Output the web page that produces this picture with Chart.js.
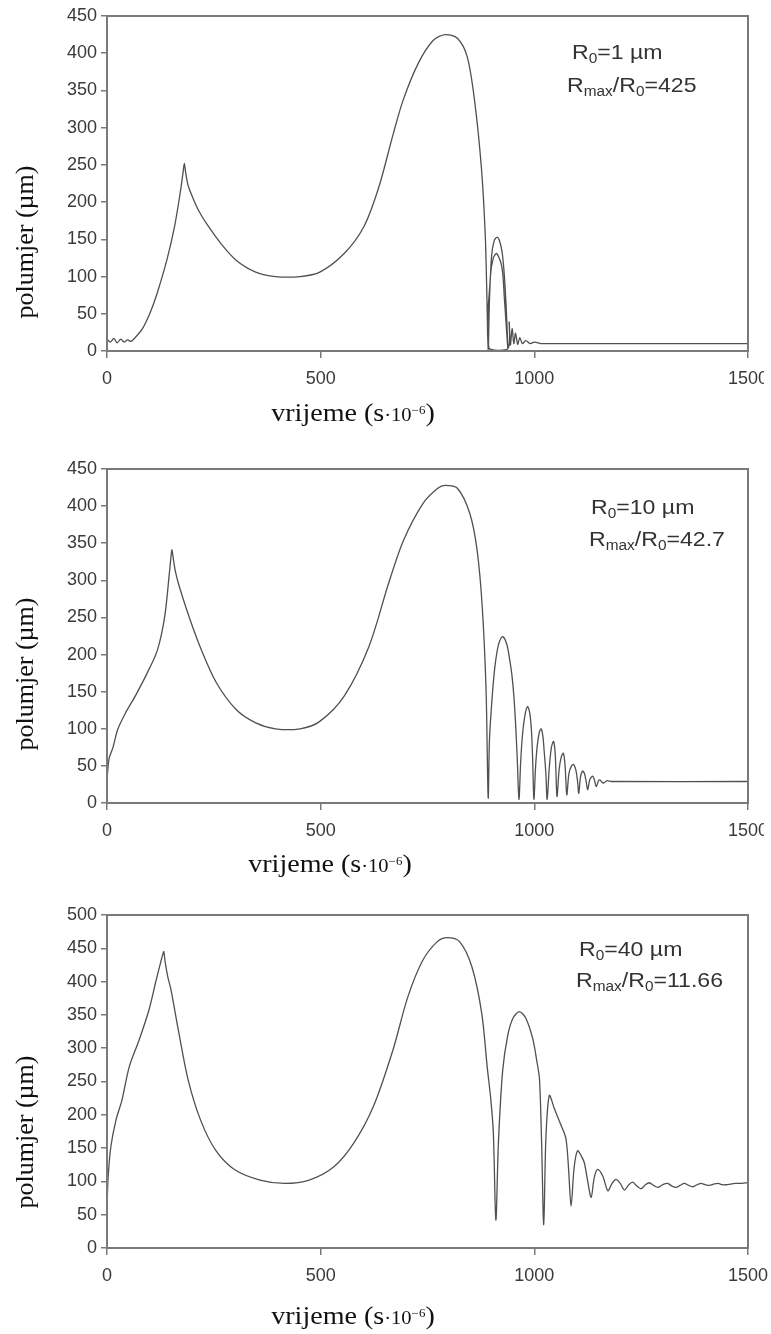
<!DOCTYPE html>
<html>
<head>
<meta charset="utf-8">
<script src="https://cdn.jsdelivr.net/npm/chart.js@4/dist/chart.umd.min.js"></script>
<style>
  body { margin: 0; background: #fff; width: 771px; height: 1334px; position: relative; overflow: hidden; }
  canvas { position: absolute; left: 0; }
  .ytitle, .xtitle { position: absolute; white-space: nowrap; color: #111;
    font-family: "Liberation Serif", "Times New Roman", serif; font-size: 26px; }
  .ytitle { transform: translate(-50%, -50%) rotate(-90deg); }
  .xtitle { transform: translate(-50%, -50%) scaleX(1.08); }
  .xtitle .small { font-size: 19px; }
  .xtitle sup { font-size: 12px; }
  .note { position: absolute; white-space: nowrap; color: #333; transform-origin: left center;
    transform: translateY(-50%) scaleX(1.1);
    font-family: "Liberation Sans", Arial, sans-serif; font-size: 21px; }
  .note sub { font-size: 14px; vertical-align: -4px; }
  .mask { position: absolute; left: 764px; width: 7px; height: 24px; background: #fff; }
</style>
</head>
<body>
<canvas id="c1" width="771" height="440" style="top:0px"></canvas>
<canvas id="c2" width="771" height="440" style="top:440px"></canvas>
<canvas id="c3" width="771" height="454" style="top:880px"></canvas>

<!-- the scan cuts the last x label of the two upper panels -->
<div class="mask" style="top:368px"></div>
<div class="mask" style="top:818px"></div>

<div class="ytitle" style="left:25px;top:242px">polumjer (µm)</div>
<div class="ytitle" style="left:25px;top:674px">polumjer (µm)</div>
<div class="ytitle" style="left:25px;top:1132px">polumjer (µm)</div>

<div class="xtitle" style="left:353px;top:413px">vrijeme (s<span class="small">·10<sup>−6</sup></span>)</div>
<div class="xtitle" style="left:330px;top:864px">vrijeme (s<span class="small">·10<sup>−6</sup></span>)</div>
<div class="xtitle" style="left:353px;top:1316px">vrijeme (s<span class="small">·10<sup>−6</sup></span>)</div>

<div class="note" style="left:572px;top:53px">R<sub>0</sub>=1 µm</div>
<div class="note" style="left:567px;top:86px">R<sub>max</sub>/R<sub>0</sub>=425</div>
<div class="note" style="left:591px;top:508px">R<sub>0</sub>=10 µm</div>
<div class="note" style="left:589px;top:540px">R<sub>max</sub>/R<sub>0</sub>=42.7</div>
<div class="note" style="left:579px;top:950px">R<sub>0</sub>=40 µm</div>
<div class="note" style="left:576px;top:981px">R<sub>max</sub>/R<sub>0</sub>=11.66</div>

<script>
// ── Data (time in s·10^-6, radius in µm) ──────────────────────────────────

const xTicks = [0, 500, 1000, 1500];

// R0 = 1 µm
const t1 = [0, 8, 16, 24, 32, 40, 48, 56, 66, 83, 100, 117, 140, 158, 172, 178, 181, 184, 190, 200, 215, 233,
  267, 302, 348, 394, 452, 498, 555, 601, 636, 670, 693, 728, 763, 791, 820, 843, 860, 876, 885, 889, 892,
  895, 900, 906, 913, 919, 925, 930, 934, 938,
  930, 924, 912, 904, 897, 894,
  938, 941, 944, 948, 952, 956, 961, 966, 972, 980, 990, 1000, 1016, 1030, 1500];
const r1 = [16, 12, 17, 11, 16, 12, 15, 13, 18, 30, 50, 77, 122, 167, 215, 240, 252, 240, 222, 207, 188, 171,
  144, 122, 106, 100, 100, 106, 131, 167, 220, 292, 337, 386, 417, 425, 420, 395, 337, 247, 158, 73, 2,
  68, 128, 148, 153, 147, 131, 100, 60, 4,
  70, 113, 131, 125, 99, 4,
  3, 39, 8, 30, 10, 24, 9, 18, 10, 14, 10, 12, 10, 10, 10];

// R0 = 10 µm
const t2 = [0, 2, 5, 14, 25, 43, 66, 94, 118, 135, 146, 150, 152, 155, 160, 169, 192, 221, 256, 302, 348, 394,
  452, 498, 555, 613, 659, 694, 740, 774, 791, 820, 849, 866, 878, 887, 892,
  895, 901, 907, 913, 918, 926, 935, 941, 947, 952, 956, 960, 964,
  968, 972, 978, 984, 989, 993, 996, 999,
  1003, 1007, 1012, 1016, 1020, 1023, 1027, 1030,
  1035, 1040, 1045, 1049, 1053,
  1058, 1063, 1068, 1072, 1076,
  1081, 1087, 1092, 1097, 1101, 1104,
  1108, 1113, 1117, 1121, 1125,
  1130, 1137, 1141, 1145,
  1150, 1154, 1158, 1163, 1170, 1180, 1500];
const r2 = [30, 45, 60, 75, 99, 121, 144, 175, 206, 251, 310, 333, 341, 330, 312, 292, 251, 206, 162, 126, 108, 100,
  100, 110, 144, 211, 296, 354, 404, 424, 428, 424, 390, 341, 265, 153, 7,
  85, 140, 180, 205, 217, 224, 215, 198, 175, 145, 108, 60, 5,
  55, 90, 118, 130, 122, 100, 60, 5,
  50, 78, 96, 100, 90, 70, 40, 5,
  48, 75, 83, 65, 9,
  45, 62, 67, 50, 11,
  40, 50, 52, 45, 30, 13,
  35, 43, 40, 30, 18,
  32, 36, 30, 22,
  30, 31, 28, 27, 30, 29, 29];

// R0 = 40 µm
const t3 = [0, 1, 3, 9, 21, 35, 52, 75, 98, 115, 126, 131, 133, 136, 142, 150, 167, 190, 219, 254, 300, 358,
  415, 473, 531, 577, 623, 669, 704, 739, 773, 796, 825, 854, 877, 890, 898, 904, 910,
  916, 926, 938, 950, 965, 980, 996, 1006, 1012, 1017, 1022,
  1027, 1035, 1047, 1062, 1074, 1080, 1086,
  1093, 1101, 1110, 1117, 1125, 1133,
  1140, 1148, 1160, 1172,
  1181, 1191, 1201, 1211,
  1221, 1230, 1240, 1250, 1260, 1269, 1279, 1289, 1300, 1312, 1322, 1332, 1341, 1351, 1361, 1371,
  1381, 1390, 1400, 1410, 1420, 1430, 1440, 1449, 1459, 1469, 1485, 1500];
const r3 = [52, 80, 110, 152, 192, 222, 272, 312, 357, 402, 430, 442, 445, 430, 408, 387, 327, 252, 192, 147, 117, 102,
  97, 102, 122, 157, 212, 297, 377, 432, 460, 466, 460, 422, 352, 270, 224, 174, 42,
  159, 267, 320, 345, 355, 345, 315, 280, 254, 159, 35,
  164, 229, 209, 185, 164, 120, 63,
  120, 146, 138, 128, 100, 76,
  105, 118, 108, 86,
  96, 103, 97, 87,
  95, 99, 93, 89, 95, 98, 94, 91, 95, 97, 93, 91, 94, 97, 94, 92,
  95, 97, 95, 94, 96, 97, 95, 95, 96, 97, 97, 98];

// ── Frame round the plot area ─────────────────────────────────────────────

const framePlugin = {
  id: 'frame',
  afterDraw(chart) {
    const a = chart.chartArea, ctx = chart.ctx;
    ctx.save();
    ctx.strokeStyle = '#7a7a7a';
    ctx.lineWidth = 2;
    ctx.strokeRect(a.left, a.top, a.right - a.left, a.bottom - a.top);
    ctx.restore();
  }
};

// ── One panel ─────────────────────────────────────────────────────────────

function mkChart(id, ts, rs, yMax, plotTop, plotBottom, canvasH) {
  const ctx = document.getElementById(id).getContext('2d');
  const tickFont = { family: '"Liberation Sans", Arial, sans-serif', size: 18 };
  return new Chart(ctx, {
    type: 'line',
    data: {
      datasets: [{
        data: ts.map((t, i) => ({ x: t, y: rs[i] })),
        borderColor: '#505050',
        borderWidth: 1.3,
        pointRadius: 0,
        tension: 0.3,
        fill: false,
      }],
    },
    options: {
      responsive: false,
      animation: false,
      devicePixelRatio: 1,
      layout: { padding: { top: plotTop, right: 23, left: 0, bottom: 0 } },
      plugins: { legend: { display: false }, tooltip: { enabled: false } },
      scales: {
        x: {
          type: 'linear', min: 0, max: 1500,
          afterBuildTicks: s => { s.ticks = xTicks.map(v => ({ value: v })); },
          // fixed axis height; let the last label hang into the right margin
          afterFit: s => { s.height = canvasH - plotBottom; s.paddingRight = 0; s.paddingLeft = 0; },
          ticks: { color: '#3a3a3a', font: tickFont, padding: 10, maxRotation: 0,
                   callback: v => String(v) },
          grid: { drawOnChartArea: false, tickLength: 7, color: '#7a7a7a', lineWidth: 1.5 },
          border: { display: false },
        },
        y: {
          min: 0, max: yMax,
          ticks: { stepSize: 50, color: '#3a3a3a', font: tickFont, padding: 4,
                   callback: v => String(v) },
          afterFit: s => { s.width = 107; },
          grid: { drawOnChartArea: false, tickLength: 6, color: '#7a7a7a', lineWidth: 1.5 },
          border: { display: false },
        },
      },
    },
    plugins: [framePlugin],
  });
}

mkChart('c1', t1, r1, 450, 16, 351, 440);
mkChart('c2', t2, r2, 450, 29, 363, 440);
mkChart('c3', t3, r3, 500, 35, 368, 454);
</script>
</body>
</html>
